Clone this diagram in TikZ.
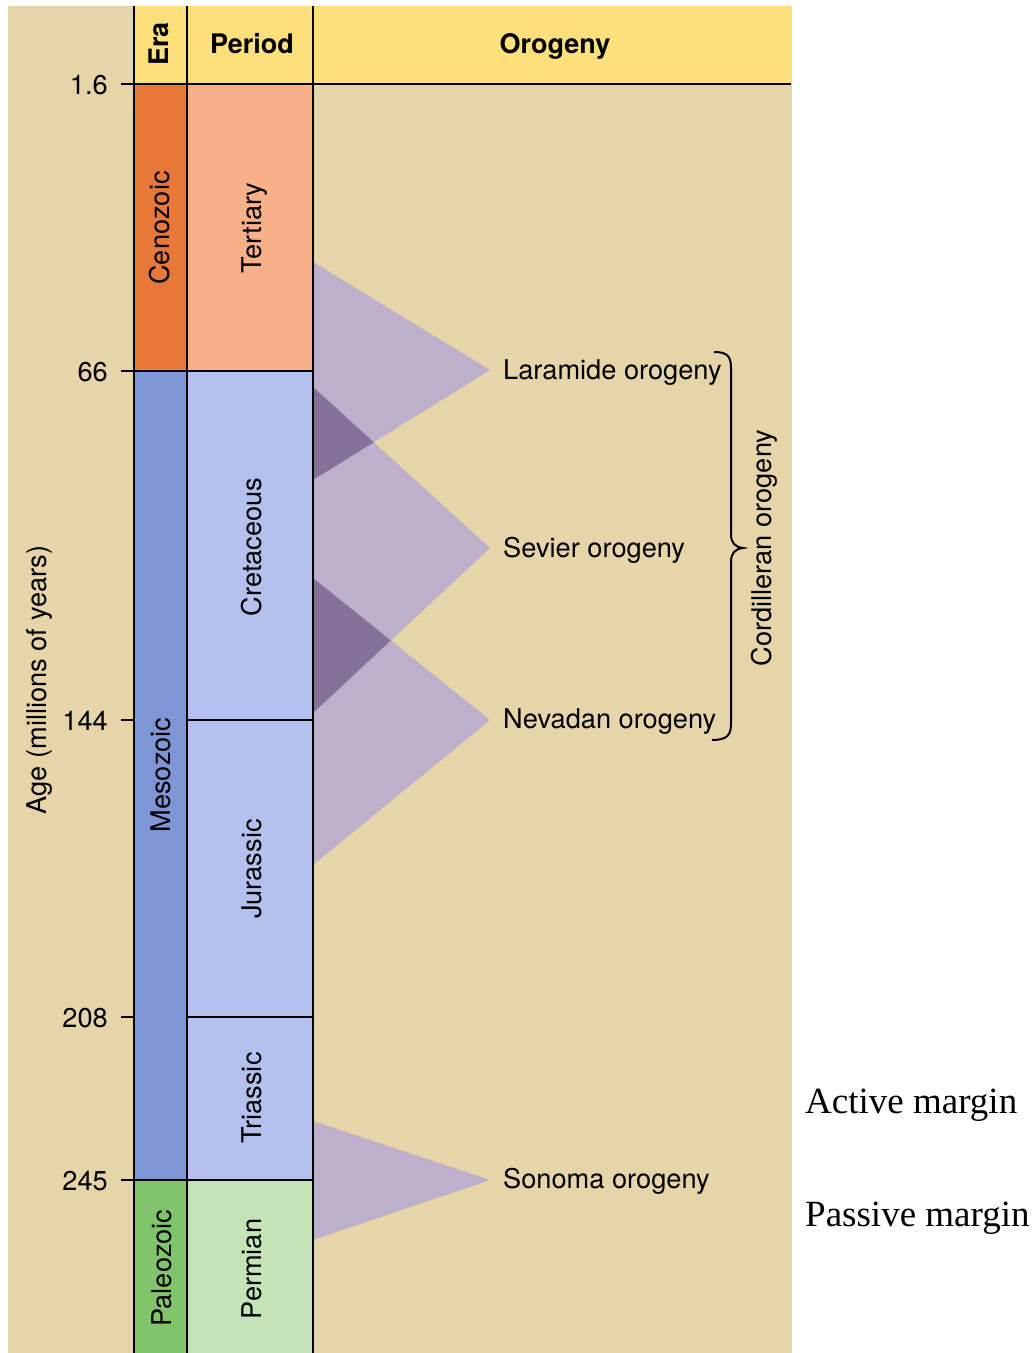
\documentclass[tikz,border=0pt]{standalone}
\usepackage{fontspec}
\setmainfont{TeX Gyre Heros}
\newfontfamily\tnr{Liberation Serif}
\definecolor{tanbg}{HTML}{E6D5A8}
\definecolor{hdr}{HTML}{FDE07C}
\definecolor{ceno}{HTML}{E87838}
\definecolor{tert}{HTML}{F8B088}
\definecolor{meso}{HTML}{7E96D6}
\definecolor{mper}{HTML}{B4C0EE}
\definecolor{paleo}{HTML}{80C46C}
\definecolor{perm}{HTML}{C4E4B8}
\definecolor{tri}{HTML}{BDB0CA}
\definecolor{tridark}{HTML}{86719A}
\begin{document}
\begin{tikzpicture}[x=1pt,y=-1pt,
  lbl/.style={font=\fontsize{27.2}{31}\selectfont, inner sep=0pt},
  hlbl/.style={font=\fontsize{27}{31}\selectfont\bfseries, inner sep=0pt},
  vlbl/.style={lbl, rotate=90, anchor=base},
  serifl/.style={font=\tnr\fontsize{37}{42}\selectfont, inner sep=0pt, anchor=base west},
  rule/.style={line width=2pt, black}]
\useasboundingbox (0,0) rectangle (1036,1353);
\fill[white] (0,0) rectangle (1036,1353);
\fill[tanbg] (8,6) rectangle (792,1353);
\fill[hdr] (134,6) rectangle (792,84);
% era column
\fill[ceno] (134,84) rectangle (187,371);
\fill[meso] (134,371) rectangle (187,1180);
\fill[paleo] (134,1180) rectangle (187,1353);
% period column
\fill[tert] (187,84) rectangle (313,371);
\fill[mper] (187,371) rectangle (313,1180);
\fill[perm] (187,1180) rectangle (313,1353);
% triangles
\def\tLar{(313,262) -- (490,370) -- (313,480) -- cycle}
\def\tSev{(313,387) -- (490,548) -- (313,713) -- cycle}
\def\tNev{(313,578) -- (490,720) -- (313,865) -- cycle}
\fill[tri] \tLar;
\fill[tri] \tSev;
\fill[tri] \tNev;
\fill[tri] (313,1121) -- (490,1180) -- (313,1240) -- cycle;
\begin{scope}
  \clip \tLar;
  \fill[tridark] \tSev;
\end{scope}
\begin{scope}
  \clip \tSev;
  \fill[tridark] \tNev;
\end{scope}
% lines
\draw[rule] (134,6) -- (134,1353);
\draw[rule] (187,6) -- (187,1353);
\draw[rule] (313,6) -- (313,1353);
\draw[rule] (121,84) -- (791,84);
\draw[rule] (121,371) -- (313,371);
\draw[rule] (121,720) -- (134,720);
\draw[rule] (187,720) -- (313,720);
\draw[rule] (121,1017) -- (134,1017);
\draw[rule] (187,1017) -- (313,1017);
\draw[rule] (121,1180) -- (313,1180);
% brace
\draw[line width=2pt] (714,352) .. controls (727,352) and (731,356) .. (731,368)
  -- (731,534) .. controls (731,543) and (735,547) .. (743,548)
  .. controls (735,549) and (731,553) .. (731,562)
  -- (731,724) .. controls (731,735) and (727,740) .. (712,740);
% header
\node[hlbl, rotate=90, anchor=base] (hera) at (168,44) {Era};
\node[hlbl, anchor=base] (hper) at (252,53) {Period};
\node[hlbl, anchor=base] (horo) at (555,53) {Orogeny};
% ticks
\node[lbl, anchor=base east] (t1) at (108,94) {1.6};
\node[lbl, anchor=base east] (t2) at (108,381) {66};
\node[lbl, anchor=base east] (t3) at (108,730) {144};
\node[lbl, anchor=base east] (t4) at (108,1027) {208};
\node[lbl, anchor=base east] (t5) at (108,1190) {245};
% era labels
\node[vlbl] (ceno) at (169,228) {Cenozoic};
\node[vlbl] (meso) at (170,775) {Mesozoic};
\node[vlbl] (paleo) at (171,1268) {Paleozoic};
% period labels
\node[vlbl] (tert) at (261,228) {Tertiary};
\node[vlbl] (cret) at (261,547) {Cretaceous};
\node[vlbl] (jur) at (261,869) {Jurassic};
\node[vlbl] (tria) at (261,1098) {Triassic};
\node[vlbl] (perm) at (261,1269) {Permian};
% axis label
\node[vlbl] (age) at (46,680) {Age (millions of years)};
% orogenies
\node[lbl, anchor=base west] (lar) at (503,379) {Laramide orogeny};
\node[lbl, anchor=base west] (sev) at (503,557) {Sevier orogeny};
\node[lbl, anchor=base west] (nev) at (503,728) {Nevadan orogeny};
\node[lbl, anchor=base west] (son) at (503,1188) {Sonoma orogeny};
\node[vlbl] (cord) at (771,548) {Cordilleran orogeny};
% margins
\node[serifl] (act) at (805,1113) {Active margin};
\node[serifl] (pas) at (805,1226) {Passive margin};
\end{tikzpicture}
\end{document}
